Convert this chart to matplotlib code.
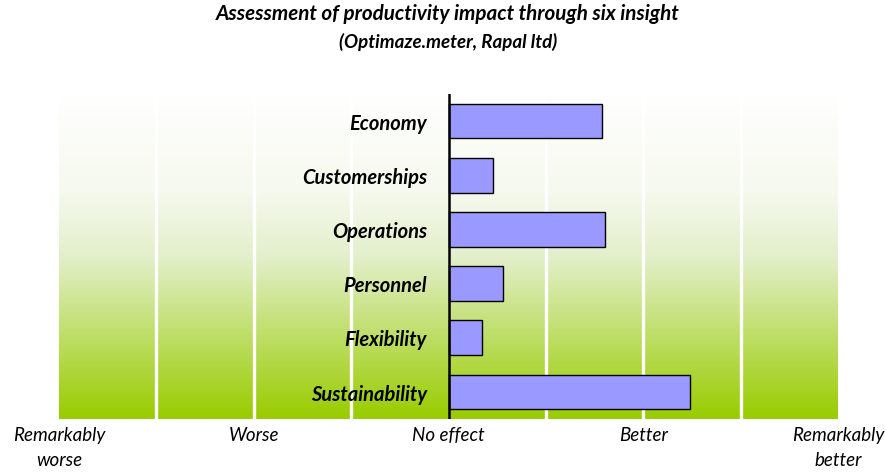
import numpy as np
import matplotlib
matplotlib.use("Agg")
import matplotlib.pyplot as plt
from matplotlib.colors import LinearSegmentedColormap

categories = ["Economy", "Customerships", "Operations", "Personnel", "Flexibility", "Sustainability"]
values = [1.58, 0.46, 1.61, 0.56, 0.34, 2.48]
tick_positions = [-4, -2, 0, 2, 4]
tick_labels = ["Remarkably\nworse", "Worse", "No effect", "Better", "Remarkably\nbetter"]
title = "Assessment of productivity impact through six insight"
subtitle = "(Optimaze.meter, Rapal ltd)"

plt.rcParams['font.family'] = ['Lato', 'DejaVu Sans']

fig = plt.figure(figsize=(8.85, 4.77), dpi=100)
ax = fig.add_axes([59/885, 1-420/477, 779/885, 325/477])

n = len(categories)
ax.set_xlim(-4, 4)
ax.set_ylim(n - 0.5, -0.5)

# gradient background
cmap = LinearSegmentedColormap.from_list(
    "g", [(0.0, "#ffffff"), (0.3, "#f6f9ee"), (0.5, "#e3efcb"), (1.0, "#99cc00")])
grad = np.linspace(0, 1, 256).reshape(-1, 1)
ax.imshow(grad, extent=[-4, 4, n - 0.5, -0.5], aspect='auto', cmap=cmap, zorder=0)

for x in range(-3, 4):
    if x != 0:
        ax.axvline(x, color='white', lw=2.4, zorder=1)

y = np.arange(n)
ax.barh(y, values, height=0.64, color='#9999ff', edgecolor='black', linewidth=1.0, zorder=3)
ax.axvline(0, color='black', lw=1.8, zorder=4)

for yi, name in zip(y, categories):
    ax.text(-0.22, yi + 0.03, name, ha='right', va='center', fontsize=14.5,
            fontweight='bold', fontstyle='italic', zorder=5)

ax.set_xticks(tick_positions)
ax.set_xticklabels(tick_labels, fontstyle='italic', fontsize=13.5, linespacing=1.6)
ax.tick_params(axis='x', length=0, pad=5)
ax.set_yticks([])
for s in ax.spines.values():
    s.set_visible(False)

fig.text(448/885, 1-14/477, title, ha='center', va='center', fontsize=14.9,
         fontweight='bold', fontstyle='italic')
fig.text(448/885, 1-42/477, subtitle, ha='center', va='center', fontsize=13.5,
         fontweight='bold', fontstyle='italic')

fig.savefig("out.png", dpi=100)
